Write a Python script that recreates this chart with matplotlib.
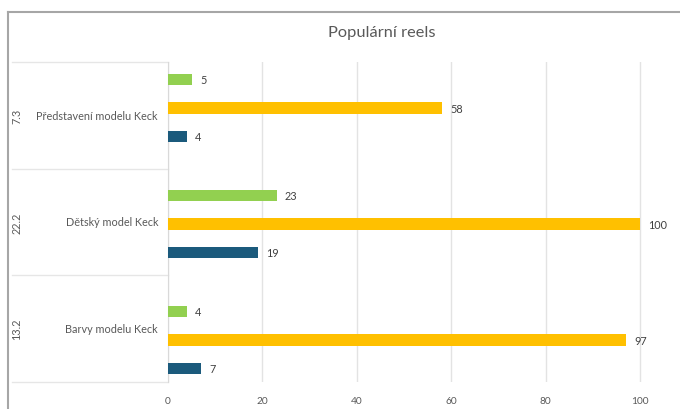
import matplotlib.pyplot as plt
from matplotlib.lines import Line2D

# --- DATA ---
dates = ["7.3", "22.2", "13.2"]
names = ["Představení modelu Keck", "Dětský model Keck", "Barvy modelu Keck"]
series_names = ["A", "B", "C"]
green_vals = [5, 23, 4]
yellow_vals = [58, 100, 97]
blue_vals = [4, 19, 7]
x_ticks = [0, 20, 40, 60, 80, 100]

COLORS = ["#92D050", "#FFC000", "#1B5A7C"]
TEXT = "#595959"
GRID = "#E3E3E3"
BORDER = "#A6A6A6"

plt.rcParams['font.family'] = ['Lato', 'DejaVu Sans']

fig = plt.figure(figsize=(6.8, 4.1), dpi=100)
ax = fig.add_axes([168 / 680, 1 - 383 / 410, 512 / 680, 320 / 410])

offsets = [-0.246, 0.0, 0.246]
bar_h = 0.1
for vals, off, col in zip([green_vals, yellow_vals, blue_vals], offsets, COLORS):
    ys = [i + off for i in range(len(names))]
    ax.barh(ys, vals, height=bar_h, color=col, zorder=3)
    for y, v in zip(ys, vals):
        ax.annotate(str(v), (v, y), xytext=(6, 0), textcoords="offset points",
                    va="center", ha="left", fontsize=7.8, color="#404040")

ax.set_xlim(0, 108.5)
ax.set_ylim(2.362, -0.397)
ax.set_xticks(x_ticks)
ax.set_xticklabels([str(t) for t in x_ticks], fontsize=7.3, color=TEXT)
ax.set_yticks([])
ax.tick_params(axis="x", length=0, pad=10)
ax.grid(axis="x", color=GRID, linewidth=1, zorder=0)
for s in ["top", "right", "bottom"]:
    ax.spines[s].set_visible(False)
ax.spines["left"].set_color("#D9D9D9")

# category table on the left (axes fraction coords)
x_left = (12 - 168) / 512
for yf in [1.0, 2 / 3, 1 / 3, 0.0]:
    ax.add_line(Line2D([x_left, 0], [yf, yf], transform=ax.transAxes,
                       color="#E6E6E6", linewidth=1, clip_on=False))
for i, (d, n) in enumerate(zip(dates, names)):
    yf = 1 - (i + 0.5) / 3
    ax.text((158 - 168) / 512, yf, n, transform=ax.transAxes, ha="right",
            va="center", fontsize=7.8, color=TEXT)
    ax.text((17 - 168) / 512, yf, d, transform=ax.transAxes, ha="center",
            va="center", fontsize=7.8, color=TEXT, rotation=90)

# title and chart border
fig.text(382 / 680, 1 - 33 / 410, "Populární reels", ha="center", va="center",
         fontsize=11.8, color=TEXT)
fig.add_artist(Line2D([8 / 680, 8 / 680], [0, 1 - 13 / 410], color=BORDER, linewidth=1.5))
fig.add_artist(Line2D([8 / 680, 1], [1 - 13 / 410, 1 - 13 / 410], color=BORDER, linewidth=1.5))

fig.savefig("out.png", dpi=100)
